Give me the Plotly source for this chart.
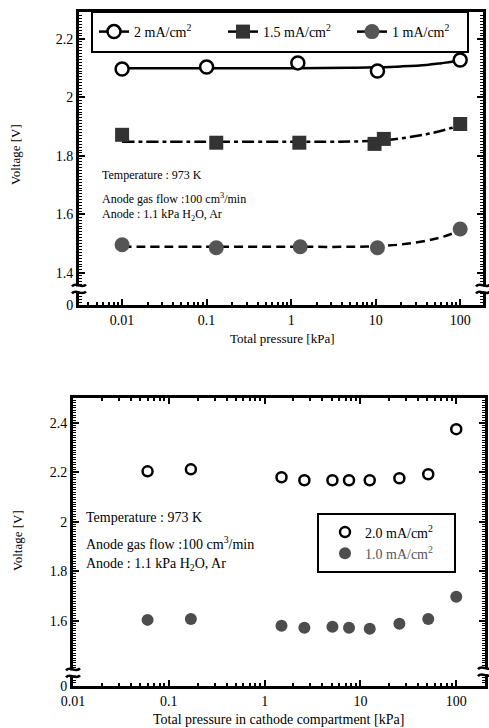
import plotly.graph_objects as go

W, H = 489, 728
FONT = "Liberation Serif, Times New Roman, serif"

# ---------------- top panel data ----------------
top_p_2 = [0.01, 0.1, 1.2, 10.5, 100]
top_v_2 = [2.097, 2.104, 2.118, 2.090, 2.128]
top_p_15 = [0.01, 0.13, 1.25, 9.7, 12.5, 100]
top_v_15 = [1.872, 1.845, 1.845, 1.841, 1.858, 1.909]
top_p_1 = [0.01, 0.13, 1.28, 10.5, 100]
top_v_1 = [1.496, 1.486, 1.489, 1.486, 1.550]

# fitted curves
fit_p = [0.01, 0.1, 1, 5, 10, 20, 40, 60, 80, 100]
fit_v_2 = [2.100, 2.100, 2.100, 2.101, 2.103, 2.106, 2.111, 2.117, 2.122, 2.128]
fit_v_15 = [1.848, 1.848, 1.848, 1.849, 1.852, 1.860, 1.874, 1.886, 1.896, 1.905]
fit_v_1 = [1.489, 1.489, 1.489, 1.489, 1.491, 1.497, 1.510, 1.522, 1.534, 1.545]

# ---------------- bottom panel data ----------------
bot_p = [0.06, 0.17, 1.5, 2.6, 5.1, 7.6, 12.5, 25.5, 51, 100]
bot_v_2 = [2.204, 2.212, 2.180, 2.168, 2.168, 2.168, 2.168, 2.176, 2.192, 2.374]
bot_v_1 = [1.604, 1.608, 1.580, 1.572, 1.576, 1.572, 1.568, 1.588, 1.608, 1.697]

top_names = ["2 mA/cm<sup>2</sup>", "1.5 mA/cm<sup>2</sup>", "1 mA/cm<sup>2</sup>"]
bot_names = ["2.0 mA/cm<sup>2</sup>", "<span style='color:#555555'>1.0 mA/cm<sup>2</sup></span>"]

top_yticks = [1.4, 1.6, 1.8, 2.0, 2.2]
top_yticklabels = ["1.4", "1.6", "1.8", "2", "2.2"]
bot_yticks = [1.6, 1.8, 2.0, 2.2, 2.4]
bot_yticklabels = ["1.6", "1.8", "2", "2.2", "2.4"]
xticks = [0.01, 0.1, 1, 10, 100]
xticklabels = ["0.01", "0.1", "1", "10", "100"]


def px(x):
    return x / W


def py(y):
    return 1 - y / H


fig = go.Figure()

mk_2 = dict(symbol="circle", size=13, color="white", line=dict(color="black", width=2.5))
mk_15 = dict(symbol="square", size=14, color="#333333", line=dict(width=0))
mk_1 = dict(symbol="circle", size=15, color="#555555", line=dict(width=0))

# top panel fitted curves
fig.add_trace(go.Scatter(x=fit_p, y=fit_v_2, mode="lines", line=dict(color="black", width=2.5, shape="spline"),
                         showlegend=False, xaxis="x", yaxis="y"))
fig.add_trace(go.Scatter(x=fit_p, y=fit_v_15, mode="lines",
                         line=dict(color="black", width=2.5, dash="12px,4px,4px,4px", shape="spline"),
                         showlegend=False, xaxis="x", yaxis="y"))
fig.add_trace(go.Scatter(x=fit_p, y=fit_v_1, mode="lines",
                         line=dict(color="black", width=2.5, dash="9px,5px", shape="spline"),
                         showlegend=False, xaxis="x", yaxis="y"))

# top panel data points
for xs, ys, mk in [(top_p_2, top_v_2, mk_2), (top_p_15, top_v_15, mk_15), (top_p_1, top_v_1, mk_1)]:
    fig.add_trace(go.Scatter(x=xs, y=ys, mode="markers", marker=mk, showlegend=False, xaxis="x", yaxis="y"))

# top legend entries (line + marker symbol)
for name, mk in zip(top_names, [mk_2, mk_15, mk_1]):
    fig.add_trace(go.Scatter(x=[None], y=[None], mode="lines+markers", name=name,
                             line=dict(color="black", width=2.5), marker=mk,
                             xaxis="x", yaxis="y", legend="legend"))

# bottom panel traces
fig.add_trace(go.Scatter(x=bot_p, y=bot_v_2, mode="markers", name=bot_names[0],
                         marker=dict(symbol="circle", size=10, color="white", line=dict(color="black", width=2.5)),
                         xaxis="x2", yaxis="y2", legend="legend2"))
fig.add_trace(go.Scatter(x=bot_p, y=bot_v_1, mode="markers", name=bot_names[1],
                         marker=dict(symbol="circle", size=12, color="#4d4d4d", line=dict(width=0)),
                         xaxis="x2", yaxis="y2", legend="legend2"))

minor_x = [m * 10 ** e for e in (-3, -2, -1, 0, 1, 2) for m in range(2, 10)]

axis_common = dict(showline=True, linecolor="black", linewidth=3, ticks="inside", ticklen=6, tickwidth=2,
                   tickcolor="black", showgrid=False, zeroline=False, automargin=False,
                   tickfont=dict(family=FONT, size=14, color="black"))

fig.update_layout(
    width=W, height=H,
    margin=dict(l=0, r=0, t=0, b=0, autoexpand=False),
    paper_bgcolor="white", plot_bgcolor="white",
    font=dict(family=FONT, size=13, color="black"),
    xaxis=dict(type="log", domain=[px(79), px(483)], range=[-2.51, 2.27], anchor="y",
               tickvals=xticks, ticktext=xticklabels, mirror=True,
               minor=dict(tickvals=minor_x, ticks="inside", ticklen=3, tickwidth=1.5, tickcolor="black"),
               **axis_common),
    yaxis=dict(domain=[py(305), py(12)], range=[1.29, 2.292], anchor="x",
               tickvals=[1.29] + top_yticks, ticktext=["0"] + top_yticklabels, mirror="allticks",
               minor=dict(dtick=0.01, tick0=1.3, ticks="inside", ticklen=3, tickwidth=1, tickcolor="black"),
               **axis_common),
    xaxis2=dict(type="log", domain=[px(73), px(485)], range=[-2, 2.3], anchor="y2",
                tickvals=xticks, ticktext=xticklabels, mirror="allticks",
                minor=dict(tickvals=minor_x, ticks="inside", ticklen=3, tickwidth=1.5, tickcolor="black"),
                **axis_common),
    yaxis2=dict(domain=[py(686), py(398)], range=[1.337, 2.5], anchor="x2",
                tickvals=[1.337] + bot_yticks, ticktext=["0"] + bot_yticklabels, mirror="allticks",
                minor=dict(dtick=0.01, tick0=1.34, ticks="inside", ticklen=3, tickwidth=1, tickcolor="black"),
                **axis_common),
    legend=dict(orientation="h", x=px(94), y=py(32), xanchor="left", yanchor="middle",
                borderwidth=0, bgcolor="rgba(0,0,0,0)",
                entrywidth=84, entrywidthmode="pixels",
                font=dict(family=FONT, size=14, color="black")),
    legend2=dict(orientation="v", x=px(325), y=py(543), xanchor="left", yanchor="middle",
                 borderwidth=0, bgcolor="rgba(0,0,0,0)", tracegroupgap=0,
                 font=dict(family=FONT, size=14, color="black")),
)

ann = []


def text(x, y, s, size=13, angle=0, xanchor="left"):
    ann.append(dict(x=px(x), y=py(y), xref="paper", yref="paper", text=s, showarrow=False,
                    xanchor=xanchor, yanchor="middle", textangle=angle,
                    font=dict(family=FONT, size=size, color="black")))


text(100, 175, "Temperature : 973 K", 12)
text(100, 199, "Anode gas flow :100 cm<sup>3</sup>/min", 12)
text(100, 215, "Anode : 1.1 kPa H<sub>2</sub>O, Ar", 12)
text(15, 155, "Voltage [V]", 13, -90, "center")
text(282, 338, "Total pressure [kPa]", 13, 0, "center")

text(84, 517, "Temperature : 973 K", 14)
text(84, 543, "Anode gas flow :100 cm<sup>3</sup>/min", 14)
text(84, 564, "Anode : 1.1 kPa H<sub>2</sub>O, Ar", 14)
text(17, 541, "Voltage [V]", 13, -90, "center")
text(278, 719, "Total pressure in cathode compartment [kPa]", 14, 0, "center")
fig.update_layout(annotations=ann)

shapes = []
# legend frames
shapes.append(dict(type="rect", xref="paper", yref="paper", x0=px(92), x1=px(468), y0=py(52), y1=py(12),
                   fillcolor="white", line=dict(color="black", width=2), layer="above"))
shapes.append(dict(type="rect", xref="paper", yref="paper", x0=px(318), x1=px(455), y0=py(572), y1=py(514),
                   fillcolor="white", line=dict(color="black", width=2), layer="above"))

# axis break symbols
for xr, yr, xa, ya in [("x domain", "y", 0, 1.345), ("x domain", "y", 1, 1.345),
                       ("x2 domain", "y2", 0, 1.39), ("x2 domain", "y2", 1, 1.395)]:
    shapes.append(dict(type="path", xref=xr, yref=yr, xsizemode="pixel", ysizemode="pixel",
                       xanchor=xa, yanchor=ya, path="M-7,-2.5 L7,-2.5 L7,2.5 L-7,2.5 Z",
                       fillcolor="white", line=dict(width=0)))
    for dy in (-3.5, 3.5):
        shapes.append(dict(type="path", xref=xr, yref=yr, xsizemode="pixel", ysizemode="pixel",
                           xanchor=xa, yanchor=ya,
                           path=f"M-7,{dy - 1} C-3,{dy + 4} 3,{dy - 4} 7,{dy + 1}",
                           line=dict(color="black", width=2.5)))
fig.update_layout(shapes=shapes)

fig.write_html("out.html", config={"displayModeBar": False},
               post_script="document.body.style.margin='0';document.documentElement.style.margin='0';"
                           "document.body.style.overflow='hidden';")
